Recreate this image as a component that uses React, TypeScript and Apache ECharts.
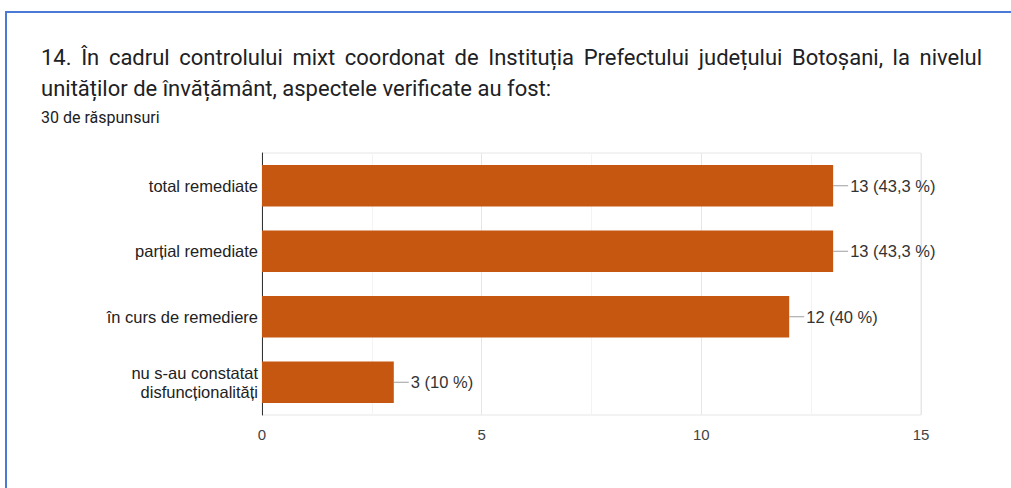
import { useEffect, useRef } from 'react';
import * as echarts from 'echarts';

const categories = [
  'total remediate',
  'parțial remediate',
  'în curs de remediere',
  'nu s-au constatat\ndisfuncționalități',
];
const counts = [13, 13, 12, 3];
const totalResponses = 30;
const xTicks = [0, 5, 10, 15];
const titleLine1 =
  '14. În cadrul controlului mixt coordonat de Instituția Prefectului județului Botoșani, la nivelul';
const titleLine2 = 'unităților de învățământ, aspectele verificate au fost:';
const subtitle = '30 de răspunsuri';

const TITLE_FONT = 'Roboto';
const TITLE_SIZE = 22;
const CHART_FONT = "'Liberation Sans', Arial, sans-serif";

function pctLabel(v: number): string {
  const p = Math.round((v / totalResponses) * 1000) / 10;
  return `${v} (${String(p).replace('.', ',')} %)`;
}

function justifiedWords(text: string, x0: number, x1: number, y: number) {
  const words = text.split(' ');
  const ctx = document.createElement('canvas').getContext('2d')!;
  ctx.font = `${TITLE_SIZE}px ${TITLE_FONT}`;
  const widths = words.map((w) => ctx.measureText(w).width);
  const sum = widths.reduce((a, b) => a + b, 0);
  const gap = Math.max(4, (x1 - x0 - sum) / (words.length - 1));
  let x = x0;
  return words.map((w, i) => {
    const el = {
      type: 'text',
      x,
      y,
      style: {
        text: w,
        font: `${TITLE_SIZE}px ${TITLE_FONT}`,
        fill: '#202124',
        verticalAlign: 'middle',
      },
    };
    x += widths[i] + gap;
    return el;
  });
}

export default function App() {
  const ref = useRef<HTMLDivElement>(null);
  useEffect(() => {
    if (!ref.current) return;
    const chart = echarts.init(ref.current, undefined, { renderer: 'svg' });
    chart.setOption({
      animation: false,
      backgroundColor: '#ffffff',
      graphic: [
        {
          type: 'rect',
          shape: { x: 6, y: 12, width: 1200, height: 600 },
          style: { fill: 'none', stroke: '#4a7ad6', lineWidth: 2 },
        },
        ...justifiedWords(titleLine1, 41, 982, 57),
        {
          type: 'text',
          x: 41,
          y: 88,
          style: {
            text: titleLine2,
            font: `${TITLE_SIZE}px ${TITLE_FONT}`,
            fill: '#202124',
            verticalAlign: 'middle',
          },
        },
        {
          type: 'text',
          x: 41,
          y: 117,
          style: {
            text: subtitle,
            font: `16px ${TITLE_FONT}`,
            fill: '#202124',
            verticalAlign: 'middle',
          },
        },
      ],
      grid: {
        left: 262,
        right: 90,
        top: 153,
        bottom: 73,
        show: true,
        borderColor: '#e6e6e6',
        borderWidth: 1,
        containLabel: false,
      },
      xAxis: {
        type: 'value',
        min: xTicks[0],
        max: xTicks[xTicks.length - 1],
        interval: xTicks[1] - xTicks[0],
        axisLine: { show: false },
        axisTick: { show: false },
        axisLabel: { fontSize: 15, color: '#444', margin: 12, fontFamily: CHART_FONT },
        splitLine: { show: true, lineStyle: { color: '#e6e6e6', width: 1 } },
        minorTick: { show: false, splitNumber: 2 },
        minorSplitLine: { show: true, lineStyle: { color: '#f3f3f3', width: 1 } },
      },
      yAxis: {
        type: 'category',
        inverse: true,
        data: categories,
        axisLine: { show: true, lineStyle: { color: '#333', width: 1 } },
        axisTick: { show: false },
        axisLabel: {
          fontSize: 16.5,
          color: '#222',
          margin: 4,
          lineHeight: 19,
          align: 'right',
          fontFamily: CHART_FONT,
        },
        splitLine: { show: false },
      },
      series: [
        {
          type: 'bar',
          data: counts,
          barWidth: '63%',
          itemStyle: { color: '#c55711' },
          label: {
            show: true,
            position: 'right',
            distance: 0,
            formatter: (p: any) => `{l|}{t|${pctLabel(p.value)}}`,
            rich: {
              l: { width: 15, height: 1, backgroundColor: '#9e9e9e' },
              t: {
                fontSize: 16.5,
                color: '#333',
                fontFamily: CHART_FONT,
                padding: [0, 0, 0, 2],
              },
            },
          },
        },
      ],
    });
    return () => chart.dispose();
  }, []);
  return (
    <div
      ref={ref}
      style={{ position: 'fixed', left: 0, top: 0, width: 1011, height: 488 }}
    />
  );
}
